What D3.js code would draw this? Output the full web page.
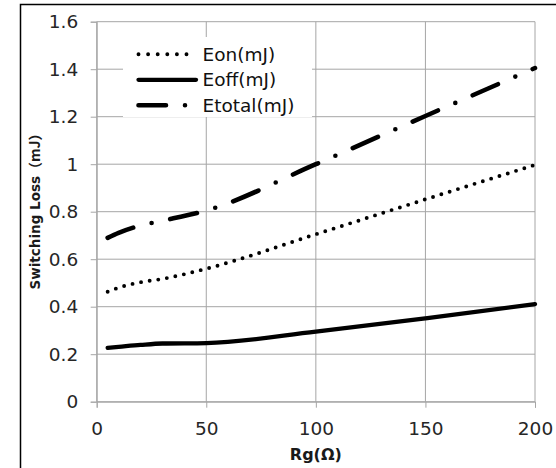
<!DOCTYPE html>
<html>
<head>
<meta charset="utf-8">
<script src="https://cdn.jsdelivr.net/npm/d3@7"></script>
<style>
body { margin: 0; background: #fff; }
svg { display: block; }
</style>
</head>
<body>
<svg width="556" height="468"></svg>
<script>
// values
const rg = [5, 10, 20, 30, 50, 100, 150, 200];
const eon = [0.463, 0.48, 0.503, 0.517, 0.56, 0.705, 0.852, 0.997];
const eoff = [0.227, 0.231, 0.239, 0.245, 0.247, 0.295, 0.351, 0.411];
const etotal = [0.69, 0.711, 0.742, 0.762, 0.805, 1.0, 1.203, 1.405];
const seriesNames = ['Eon(mJ)', 'Eoff(mJ)', 'Etotal(mJ)'];
const xTicks = [0, 50, 100, 150, 200];
const yTicks = [0, 0.2, 0.4, 0.6, 0.8, 1, 1.2, 1.4, 1.6];

const gridColor = '#a6a6a6';
const svg = d3.select('svg');

const x = d3.scaleLinear()
    .domain([0, 200])
    .range([96.7, 535]);

const y = d3.scaleLinear()
    .domain([0, 1.6])
    .range([401.7, 21.7]);

// outer frame (runs off the right and bottom edge)
svg.append('rect')
    .attr('x', 20.5)
    .attr('y', 4.5)
    .attr('width', 700)
    .attr('height', 700)
    .attr('fill', 'none')
    .attr('stroke', '#000')
    .attr('stroke-width', 1.5);

// grid
const grid = svg.append('g').attr('stroke', gridColor).attr('stroke-width', 1);
grid.selectAll('.hgrid')
    .data(yTicks)
    .enter().append('line')
    .attr('x1', x(0))
    .attr('x2', x(200))
    .attr('y1', d => y(d))
    .attr('y2', d => y(d));
grid.selectAll('.vgrid')
    .data(xTicks)
    .enter().append('line')
    .attr('x1', d => x(d))
    .attr('x2', d => x(d))
    .attr('y1', y(1.6))
    .attr('y2', y(0));

// axes
const yAxis = d3.axisLeft(y)
    .tickValues(yTicks)
    .tickSize(6)
    .tickPadding(12.5)
    .tickFormat(d3.format('~g'));

const xAxis = d3.axisBottom(x)
    .tickValues(xTicks)
    .tickSize(6)
    .tickPadding(14.5)
    .tickFormat(d3.format('~g'));

function styleAxis(g) {
    g.select('.domain').attr('stroke', gridColor);
    g.selectAll('.tick line').attr('stroke', gridColor);
    g.selectAll('.tick text')
        .attr('fill', '#262626')
        .attr('font-family', 'DejaVu Sans')
        .attr('font-size', 18.5);
}

svg.append('g')
    .attr('transform', 'translate(' + x(0) + ',0)')
    .call(yAxis)
    .call(styleAxis);

svg.append('g')
    .attr('transform', 'translate(0,' + y(0) + ')')
    .call(xAxis)
    .call(styleAxis);

// axis titles
svg.append('text')
    .attr('x', (x(0) + x(200)) / 2)
    .attr('y', 460)
    .attr('text-anchor', 'middle')
    .attr('font-family', 'DejaVu Sans')
    .attr('font-weight', 'bold')
    .attr('font-size', 16)
    .attr('fill', '#1a1a1a')
    .text('Rg(Ω)');

const yTitle = svg.append('text')
    .attr('transform', 'translate(40,208) rotate(-90)')
    .attr('text-anchor', 'middle')
    .attr('font-family', 'DejaVu Sans')
    .attr('font-weight', 'bold')
    .attr('font-size', 13.5)
    .attr('fill', '#1a1a1a');
yTitle.append('tspan').text('Switching Loss');
yTitle.append('tspan')
    .attr('font-family', 'Noto Sans CJK SC')
    .attr('font-size', 14)
    .text('（mJ）');

// series
const styles = [
    { width: 3.9, dash: '0 8.7' },
    { width: 4.3, dash: null },
    { width: 4.6, dash: '27.5 19 0 19' }
];
const seriesValues = [eon, eoff, etotal];

const line = d3.line()
    .curve(d3.curveMonotoneX)
    .x(d => x(d[0]))
    .y(d => y(d[1]));

svg.append('g')
    .selectAll('path')
    .data(seriesValues)
    .enter().append('path')
    .attr('d', vals => line(rg.map((r, i) => [r, vals[i]])))
    .attr('fill', 'none')
    .attr('stroke', '#000')
    .attr('stroke-width', (d, i) => styles[i].width)
    .attr('stroke-linecap', 'round')
    .attr('stroke-dasharray', (d, i) => styles[i].dash);

// legend
const legend = svg.append('g');
legend.append('rect')
    .attr('x', 123)
    .attr('y', 37)
    .attr('width', 189)
    .attr('height', 80)
    .attr('fill', '#fff');

const items = legend.selectAll('.item')
    .data(seriesNames)
    .enter().append('g')
    .attr('class', 'item')
    .attr('transform', (d, i) => 'translate(0,' + (54.3 + i * 25.5) + ')');

items.append('line')
    .attr('x1', 138.5)
    .attr('x2', 196)
    .attr('y1', 0)
    .attr('y2', 0)
    .attr('stroke', '#000')
    .attr('stroke-width', (d, i) => styles[i].width)
    .attr('stroke-linecap', 'round')
    .attr('stroke-dasharray', (d, i) => i === 0 ? '0 9.6' : styles[i].dash);

items.append('text')
    .attr('x', 202.5)
    .attr('y', 6.5)
    .attr('font-family', 'DejaVu Sans')
    .attr('font-size', 18.5)
    .attr('fill', '#111')
    .text(d => d);
</script>
</body>
</html>
